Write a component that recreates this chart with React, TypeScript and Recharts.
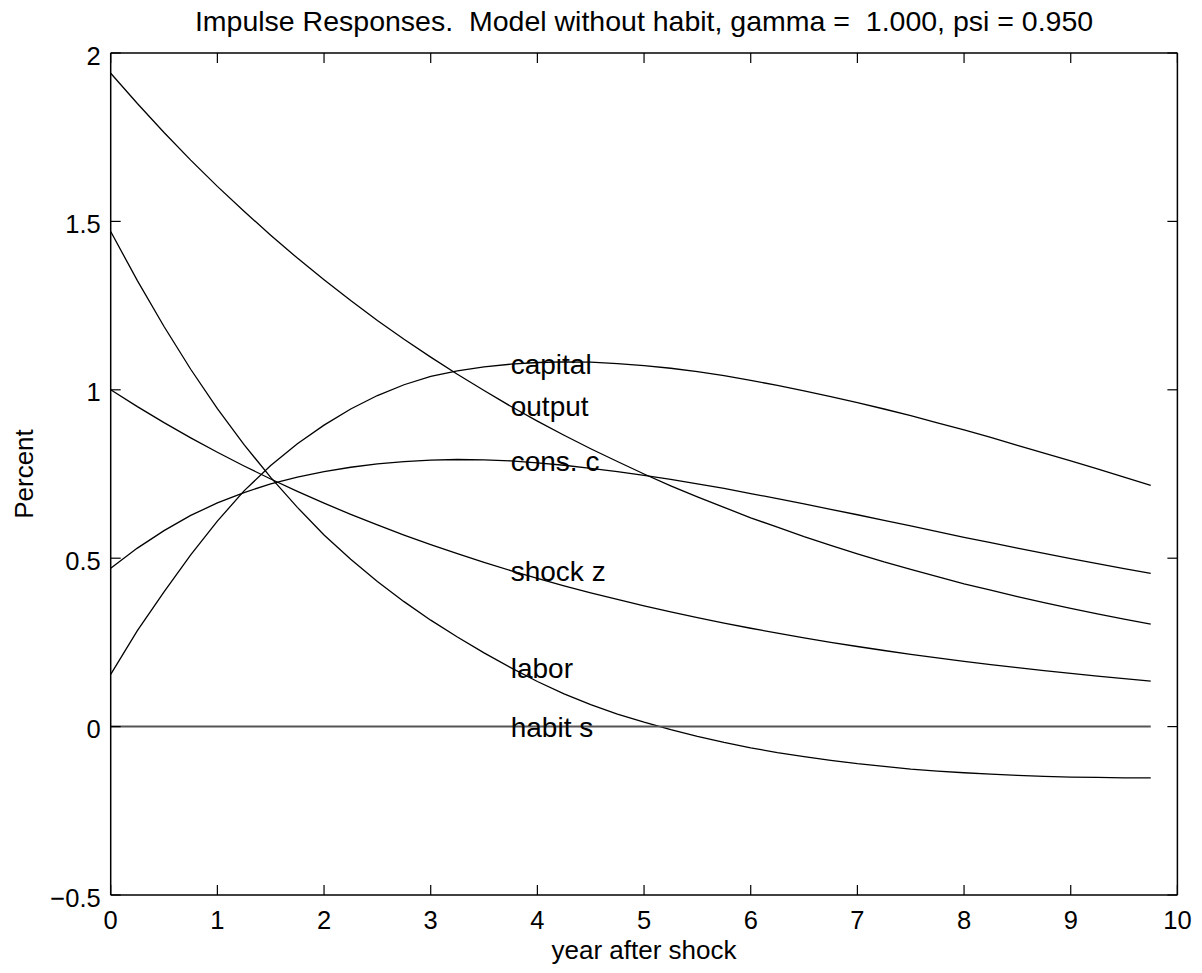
import { LineChart, Line, XAxis, YAxis, ReferenceLine } from 'recharts'

// quarterly horizon, in years after the shock
const years = [
  0, 0.25, 0.5, 0.75, 1, 1.25, 1.5, 1.75, 2, 2.25, 2.5, 2.75, 3, 3.25, 3.5, 3.75, 4, 4.25, 4.5, 4.75,
  5, 5.25, 5.5, 5.75, 6, 6.25, 6.5, 6.75, 7, 7.25, 7.5, 7.75, 8, 8.25, 8.5, 8.75, 9, 9.25, 9.5, 9.75,
]

const capital = [
  0.155, 0.285, 0.4, 0.51, 0.61, 0.7, 0.775, 0.84, 0.895, 0.943, 0.983, 1.015, 1.04, 1.056, 1.068, 1.076, 1.081, 1.083, 1.082, 1.078,
  1.072, 1.064, 1.054, 1.042, 1.028, 1.013, 0.997, 0.98, 0.962, 0.943, 0.923, 0.902, 0.881, 0.859, 0.835, 0.812, 0.789, 0.765, 0.741, 0.716,
]

const output = [
  1.94, 1.85, 1.764, 1.682, 1.604, 1.53, 1.459, 1.391, 1.327, 1.265, 1.206, 1.15, 1.097, 1.046, 0.998, 0.951, 0.907, 0.865, 0.825, 0.787,
  0.75, 0.715, 0.682, 0.651, 0.62, 0.592, 0.564, 0.538, 0.513, 0.489, 0.467, 0.445, 0.424, 0.405, 0.386, 0.368, 0.351, 0.335, 0.319, 0.304,
]

const consC = [
  0.47, 0.53, 0.582, 0.627, 0.664, 0.695, 0.721, 0.741, 0.757, 0.77, 0.78, 0.787, 0.791, 0.793, 0.792, 0.789, 0.783, 0.776, 0.767, 0.757,
  0.746, 0.734, 0.721, 0.707, 0.692, 0.677, 0.661, 0.645, 0.629, 0.612, 0.596, 0.579, 0.562, 0.546, 0.53, 0.514, 0.499, 0.484, 0.469, 0.455,
]

const shockZ = [
  1.0, 0.95, 0.9025, 0.8574, 0.8145, 0.7738, 0.7351, 0.6983, 0.6634, 0.6302, 0.5987, 0.5688, 0.5404, 0.5133, 0.4877, 0.4633, 0.4401, 0.4181, 0.3972, 0.3774,
  0.3585, 0.3406, 0.3235, 0.3074, 0.292, 0.2774, 0.2635, 0.2503, 0.2378, 0.2259, 0.2146, 0.2039, 0.1937, 0.184, 0.1748, 0.1661, 0.1578, 0.1499, 0.1424, 0.1353,
]

const labor = [
  1.47, 1.324, 1.188, 1.061, 0.944, 0.837, 0.74, 0.651, 0.569, 0.497, 0.431, 0.371, 0.316, 0.266, 0.219, 0.175, 0.134, 0.097, 0.065, 0.037,
  0.013, -0.009, -0.029, -0.047, -0.063, -0.077, -0.089, -0.1, -0.11, -0.118, -0.126, -0.132, -0.137, -0.141, -0.145, -0.148, -0.15, -0.151, -0.152, -0.152,
]

const habitS = [
  0, 0, 0, 0, 0, 0, 0, 0, 0, 0, 0, 0, 0, 0, 0, 0, 0, 0, 0, 0,
  0, 0, 0, 0, 0, 0, 0, 0, 0, 0, 0, 0, 0, 0, 0, 0, 0, 0, 0, 0,
]

const xTicks = [0, 1, 2, 3, 4, 5, 6, 7, 8, 9, 10]
const yTicks = [-0.5, 0, 0.5, 1, 1.5, 2]

const series = [
  { key: 'capital', label: 'capital', values: capital },
  { key: 'output', label: 'output', values: output },
  { key: 'consC', label: 'cons. c', values: consC },
  { key: 'shockZ', label: 'shock z', values: shockZ },
  { key: 'labor', label: 'labor', values: labor },
  { key: 'habitS', label: 'habit s', values: habitS },
]

const LABEL_INDEX = 15 // names are written at year 3.75

const data = years.map((t, i) => {
  const row: Record<string, number> = { t }
  series.forEach((s) => (row[s.key] = s.values[i]))
  return row
})

// the svg is pulled over the body margin, so these are page pixels
const W = 1202
const H = 973
const PL = 110.7
const PT = 53
const PR = 1177.4
const PB = 895
const Y_AXIS_W = 60
const X_AXIS_H = 40
const FONT = '"Liberation Sans", Arial, Helvetica, sans-serif'

const fmt = (v: number) => (v < 0 ? '\u2212' + String(-v) : String(v))

function XTick({ x, payload }: any) {
  return (
    <g>
      <line x1={x} x2={x} y1={PB} y2={PB - 10} stroke="#000" strokeWidth={1.2} />
      <line x1={x} x2={x} y1={PT} y2={PT + 10} stroke="#000" strokeWidth={1.2} />
      <text x={x} y={PB + 34} textAnchor="middle" fontSize={25.5} fontFamily={FONT} fill="#000">
        {fmt(payload.value)}
      </text>
    </g>
  )
}

function YTick({ y, payload }: any) {
  return (
    <g>
      <line x1={PL} x2={PL + 10} y1={y} y2={y} stroke="#000" strokeWidth={1.2} />
      <line x1={PR - 10} x2={PR} y1={y} y2={y} stroke="#000" strokeWidth={1.2} />
      <text x={PL - 10} y={y + 11.5} textAnchor="end" fontSize={25.5} fontFamily={FONT} fill="#000">
        {fmt(payload.value)}
      </text>
    </g>
  )
}

function nameDot(label: string) {
  return (props: any) => {
    const { cx, cy, index } = props
    if (index !== LABEL_INDEX) return <g key={`d-${label}-${index}`} />
    return (
      <text key={`d-${label}-${index}`} x={cx} y={cy + 10} fontSize={28} fontFamily={FONT} fill="#000">
        {label}
      </text>
    )
  }
}

export default function App() {
  return (
    <div style={{ width: W, height: H, margin: -8, background: '#fff' }}>
      <LineChart
        width={W}
        height={H}
        data={data}
        margin={{ top: PT, right: W - PR, bottom: H - PB - X_AXIS_H, left: PL - Y_AXIS_W }}
      >
        <XAxis
          dataKey="t"
          type="number"
          domain={[0, 10]}
          ticks={xTicks}
          height={X_AXIS_H}
          tickLine={false}
          tick={<XTick />}
          axisLine={{ stroke: '#000', strokeWidth: 1.5 }}
          interval={0}
        />
        <YAxis
          type="number"
          domain={[-0.5, 2]}
          ticks={yTicks}
          width={Y_AXIS_W}
          tickLine={false}
          tick={<YTick />}
          axisLine={{ stroke: '#000', strokeWidth: 1.5 }}
          interval={0}
        />
        <ReferenceLine y={2} stroke="#000" strokeWidth={1.5} />
        <ReferenceLine x={10} stroke="#000" strokeWidth={1.5} />
        {series.map((s) => (
          <Line
            key={s.key}
            dataKey={s.key}
            type="linear"
            stroke={s.key === 'habitS' ? '#555' : '#000'}
            strokeWidth={s.key === 'habitS' ? 2 : 1.3}
            dot={nameDot(s.label)}
            activeDot={false}
            isAnimationActive={false}
          />
        ))}
        <text x={(PL + PR) / 2} y={30.5} textAnchor="middle" fontSize={28.5} fontFamily={FONT} fill="#000" style={{ whiteSpace: 'pre' }}>
          {'Impulse Responses.  Model without habit, gamma =  1.000, psi = 0.950'}
        </text>
        <text x={(PL + PR) / 2} y={959} textAnchor="middle" fontSize={26} fontFamily={FONT} fill="#000">
          year after shock
        </text>
        <text x={33} y={(PT + PB) / 2} transform={`rotate(-90 33 ${(PT + PB) / 2})`} textAnchor="middle" fontSize={26} fontFamily={FONT} fill="#000">
          Percent
        </text>
      </LineChart>
    </div>
  )
}
